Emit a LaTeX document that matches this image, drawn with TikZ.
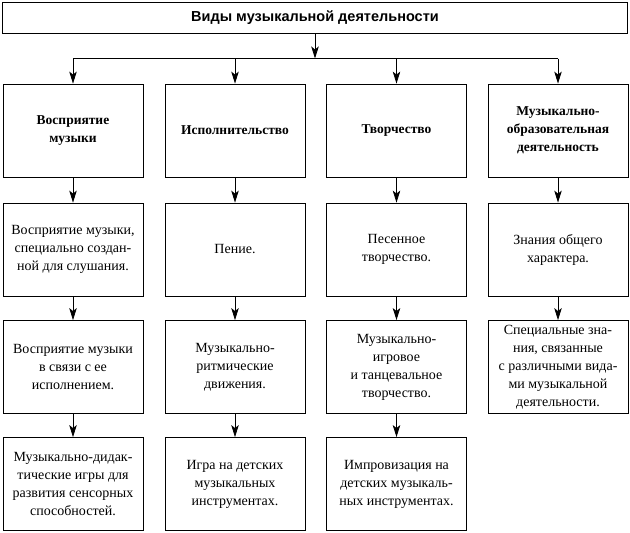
\documentclass[tikz,border=0pt]{standalone}
\usepackage{fontspec}
\setmainfont{Liberation Serif}
\newfontfamily\titlefont{Liberation Sans}
\usetikzlibrary{arrows.meta}
\begin{document}
\begin{tikzpicture}[x=1pt,y=-1pt,
  box/.style={draw,line width=0.8pt,minimum width=140pt,minimum height=93pt,align=center,inner sep=2pt,font=\fontsize{14}{18}\selectfont},
  headbox/.style={box,font=\fontsize{13.5}{18}\selectfont\bfseries},
  topbox/.style={draw,line width=1.8pt,minimum width=625pt,minimum height=31pt,font=\titlefont\fontsize{14.5}{17}\selectfont\bfseries},
  arr/.style={line width=0.8pt,-{Stealth[length=12pt,width=7.5pt,inset=3pt]}},
  ln/.style={line width=0.8pt}]
\useasboundingbox (0,0) rectangle (630,533);
\node[topbox] (top) at (315,18) {Виды музыкальной деятельности};
\coordinate (hub) at (315,58.5);
\coordinate (hl) at (73,58.5);
\coordinate (hr) at (558,58.5);
% row 1
\node[headbox] (a1) at (73,130.5) {Восприятие\\музыки};
\node[headbox] (b1) at (235,130.5) {Исполнительство};
\node[headbox] (c1) at (396.5,130.5) {Творчество};
\node[headbox] (d1) at (558,130.5) {Музыкально-\\образовательная\\деятельность};
% row 2
\node[box] (a2) at (73,249.5) {Восприятие музыки,\\специально создан-\\ной для слушания.};
\node[box] (b2) at (235,249.5) {Пение.};
\node[box] (c2) at (396.5,249.5) {Песенное\\творчество.};
\node[box] (d2) at (558,249.5) {Знания общего\\характера.};
% row 3
\node[box] (a3) at (73,367) {Восприятие музыки\\в связи с ее\\исполнением.};
\node[box] (b3) at (235,367) {Музыкально-\\ритмические\\движения.};
\node[box] (c3) at (396.5,367) {Музыкально-\\игровое\\и танцевальное\\творчество.};
\node[box] (d3) at (558,367) {Специальные зна-\\ния, связанные\\с различными вида-\\ми музыкальной\\деятельности.};
% row 4
\node[box] (a4) at (73,484) {Музыкально-дидак-\\тические игры для\\развития сенсорных\\способностей.};
\node[box] (b4) at (235,484) {Игра на детских\\музыкальных\\инструментах.};
\node[box] (c4) at (396.5,484) {Импровизация на\\детских музыкаль-\\ных инструментах.};
% connectors
\draw[arr] (top.south) -- (hub);
\draw[ln] (hl) -- (hr);
\foreach \n in {a1,b1,c1,d1} \draw[arr] (hl -| \n.north) -- (\n.north);
\foreach \u/\v in {a1/a2,a2/a3,a3/a4,b1/b2,b2/b3,b3/b4,c1/c2,c2/c3,c3/c4,d1/d2,d2/d3}
  \draw[arr] (\u.south) -- (\v.north);
\end{tikzpicture}
\end{document}
